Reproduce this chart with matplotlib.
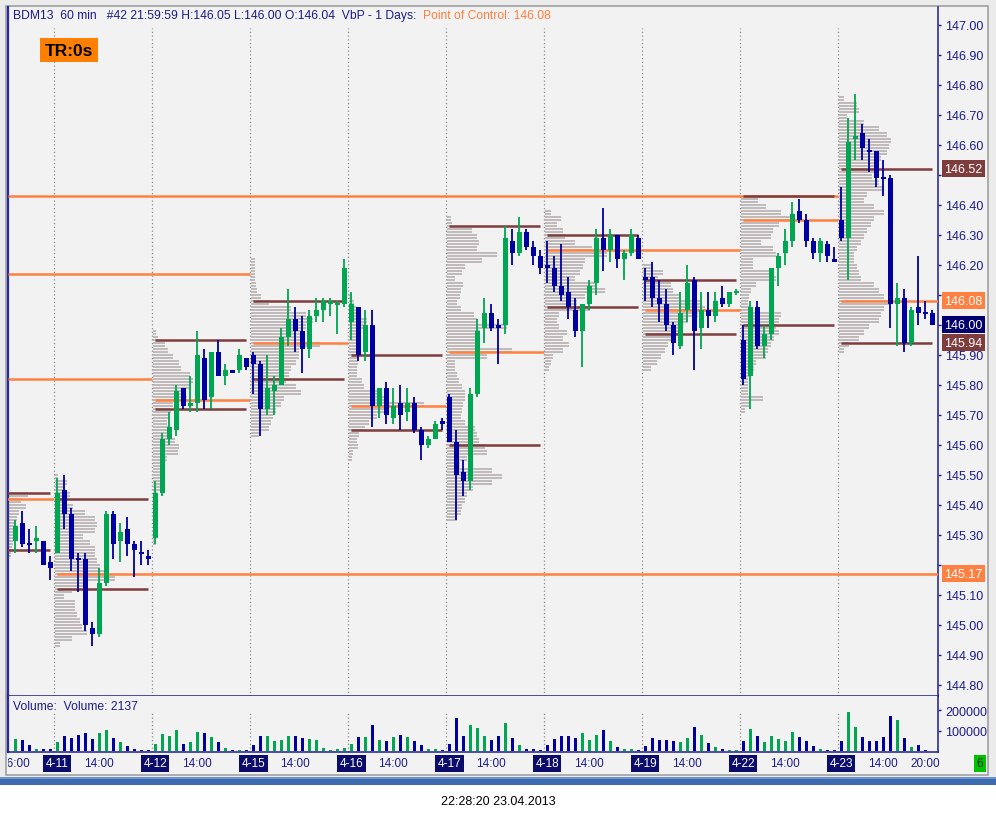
import matplotlib
matplotlib.use("Agg")
import matplotlib.pyplot as plt
import matplotlib.transforms as mtransforms
from matplotlib.patches import Rectangle
import numpy as np

plt.rcParams['font.family'] = ['Liberation Sans', 'DejaVu Sans']

# ---- data (BDM13, 60 min bars) ----
DAYS = ["4-10", "4-11", "4-12", "4-15", "4-16", "4-17", "4-18", "4-19", "4-22", "4-23"]
DAY_START = [-8, 6, 20, 34, 48, 62, 76, 90, 104, 118]   # bar index of the 08:00 bar
FIRST_HOUR = 8

OPEN = [145.28, 145.34, 145.27, 145.28, 145.28, 145.21,
        145.24, 145.45, 145.37, 145.22, 145.22, 144.99, 144.97, 145.14, 145.37, 145.28, 145.32, 145.27, 145.24, 145.23,
        145.29, 145.44, 145.62, 145.65, 145.79, 145.73, 145.74, 145.89, 145.76, 145.91, 145.83, 145.85, 145.85, 145.89,
        145.90, 145.87, 145.72, 145.78, 145.80, 145.96, 146.02, 145.98, 145.92, 146.03, 146.05, 146.07, 146.07, 146.07,
        146.01, 146.06, 145.91, 146.00, 145.73, 145.79, 145.69, 145.74, 145.71, 145.74, 145.65, 145.60, 145.62, 145.68,
        145.76, 145.61, 145.51, 145.48, 145.77, 145.99, 146.04, 146.00, 146.00, 146.28, 146.24, 146.31, 146.26, 146.23,
        146.20, 146.19, 146.13, 146.11, 146.05, 145.98, 146.07, 146.14, 146.29, 146.25, 146.30, 146.22, 146.24, 146.29,
        146.16, 146.16, 146.09, 146.07, 146.00, 145.93, 146.05, 146.15, 145.99, 146.05, 146.03, 146.09, 146.07, 146.11,
        145.95, 145.83, 146.06, 145.93, 145.97, 146.19, 146.24, 146.28, 146.38, 146.35, 146.28, 146.24, 146.27, 146.22,
        146.35, 146.29, 146.62, 146.64, 146.58, 146.58, 146.49, 146.49, 146.07, 146.09, 145.94, 146.06, 146.04, 146.04]
HIGH = [145.35, 145.38, 145.32, 145.33, 145.28, 145.23,
        145.49, 145.50, 145.39, 145.24, 145.24, 145.01, 145.19, 145.38, 145.38, 145.34, 145.36, 145.28, 145.28, 145.25,
        145.48, 145.64, 145.71, 145.80, 145.79, 145.83, 145.98, 145.92, 145.91, 145.95, 145.87, 145.85, 145.92, 145.89,
        145.91, 145.88, 145.90, 145.83, 145.99, 146.12, 146.06, 146.03, 146.05, 146.09, 146.09, 146.09, 146.08, 146.22,
        146.11, 146.06, 146.05, 146.05, 145.79, 145.81, 145.79, 145.80, 145.79, 145.76, 145.66, 145.63, 145.68, 145.69,
        145.77, 145.65, 145.55, 145.79, 146.02, 146.09, 146.07, 146.02, 146.33, 146.32, 146.36, 146.32, 146.28, 146.25,
        146.28, 146.23, 146.27, 146.16, 146.09, 146.07, 146.15, 146.32, 146.39, 146.32, 146.30, 146.25, 146.32, 146.30,
        146.19, 146.21, 146.15, 146.12, 146.01, 146.11, 146.20, 146.16, 146.11, 146.11, 146.11, 146.13, 146.11, 146.12,
        146.00, 146.08, 146.08, 146.00, 146.19, 146.24, 146.32, 146.41, 146.42, 146.37, 146.29, 146.29, 146.28, 146.26,
        146.46, 146.69, 146.77, 146.67, 146.62, 146.58, 146.55, 146.50, 146.14, 146.12, 146.06, 146.23, 146.08, 146.05]
LOW = [145.24, 145.26, 145.24, 145.24, 145.20, 145.15,
       145.24, 145.32, 145.18, 145.11, 144.98, 144.93, 144.96, 145.13, 145.22, 145.21, 145.23, 145.16, 145.20, 145.20,
       145.27, 145.43, 145.60, 145.63, 145.72, 145.71, 145.71, 145.72, 145.72, 145.83, 145.80, 145.84, 145.84, 145.85,
       145.77, 145.63, 145.70, 145.70, 145.80, 145.93, 145.91, 145.84, 145.89, 146.01, 146.01, 146.03, 145.97, 146.06,
       145.95, 145.88, 145.88, 145.66, 145.69, 145.67, 145.67, 145.65, 145.68, 145.64, 145.55, 145.59, 145.62, 145.65,
       145.61, 145.35, 145.43, 145.45, 145.76, 145.94, 145.98, 145.87, 145.97, 146.20, 146.23, 146.25, 146.20, 146.17,
       146.14, 146.11, 146.08, 146.02, 145.96, 145.86, 146.05, 146.10, 146.18, 146.21, 146.19, 146.15, 146.23, 146.22,
       146.08, 146.06, 146.01, 145.98, 145.90, 145.92, 146.01, 145.85, 145.92, 145.99, 146.01, 146.06, 146.06, 146.10,
       145.80, 145.72, 145.92, 145.89, 145.95, 146.13, 146.20, 146.26, 146.34, 146.26, 146.22, 146.21, 146.21, 146.21,
       146.28, 146.15, 146.55, 146.55, 146.51, 146.46, 146.43, 145.99, 145.93, 145.91, 145.93, 146.00, 146.02, 146.00]
CLOSE = [145.33, 145.27, 145.27, 145.29, 145.20, 145.19,
         145.44, 145.37, 145.22, 145.22, 145.00, 144.97, 145.14, 145.37, 145.27, 145.31, 145.27, 145.25, 145.24, 145.22,
         145.44, 145.62, 145.66, 145.78, 145.73, 145.74, 145.90, 145.75, 145.91, 145.83, 145.85, 145.84, 145.90, 145.86,
         145.87, 145.72, 145.79, 145.80, 145.96, 146.02, 145.98, 145.92, 146.03, 146.05, 146.08, 146.08, 146.07, 146.19,
         146.07, 145.90, 146.00, 145.73, 145.79, 145.70, 145.73, 145.70, 145.74, 145.65, 145.60, 145.62, 145.67, 145.67,
         145.61, 145.50, 145.48, 145.77, 145.98, 146.04, 145.99, 145.99, 146.29, 146.24, 146.31, 146.26, 146.23, 146.19,
         146.19, 146.13, 146.10, 146.06, 145.98, 146.07, 146.13, 146.29, 146.25, 146.30, 146.22, 146.24, 146.30, 146.22,
         146.15, 146.09, 146.07, 146.00, 145.94, 146.04, 146.14, 145.98, 146.05, 146.03, 146.08, 146.07, 146.11, 146.11,
         145.82, 146.06, 145.93, 145.97, 146.19, 146.23, 146.28, 146.37, 146.35, 146.28, 146.24, 146.28, 146.23, 146.21,
         146.29, 146.61, 146.63, 146.59, 146.58, 146.49, 146.49, 146.07, 146.09, 145.94, 146.05, 146.04, 146.04, 146.00]
DOJI_UP = [46, 103]   # crosses drawn in green

VOLUME = [60000, 55000, 31000, 11000, 11000, 11000,
          46000, 75000, 65000, 80000, 89000, 60000, 89000, 104000, 65000, 46000, 26000, 11000, 7000, 7000,
          36000, 85000, 75000, 104000, 36000, 46000, 94000, 89000, 70000, 46000, 16000, 7000, 7000, 7000,
          31000, 75000, 75000, 50000, 55000, 75000, 75000, 65000, 60000, 55000, 16000, 7000, 11000, 16000,
          36000, 70000, 70000, 128000, 55000, 50000, 70000, 80000, 70000, 50000, 31000, 11000, 11000, 7000,
          36000, 163000, 75000, 128000, 114000, 75000, 55000, 75000, 138000, 65000, 31000, 11000, 11000, 7000,
          31000, 60000, 75000, 75000, 65000, 89000, 55000, 80000, 104000, 50000, 21000, 11000, 11000, 7000,
          26000, 65000, 55000, 55000, 50000, 46000, 65000, 119000, 80000, 41000, 21000, 11000, 7000, 7000,
          50000, 109000, 75000, 46000, 75000, 60000, 50000, 94000, 70000, 50000, 26000, 11000, 7000, 7000,
          50000, 192000, 119000, 70000, 50000, 50000, 70000, 172000, 153000, 65000, 21000, 31000, 7000, 2137]

# value area high / point of control / value area low per day
VAH = [145.44, 145.42, 145.95, 146.08, 145.90, 146.33, 146.30, 146.15, 146.43, 146.52]
POC = [145.42, 145.17, 145.75, 145.94, 145.73, 145.91, 146.25, 146.05, 146.35, 146.08]
VAL = [145.25, 145.12, 145.72, 145.82, 145.65, 145.60, 146.06, 145.97, 146.00, 145.94]
OLD_POC = [146.43, 146.17, 145.82]   # untested POCs of earlier sessions

# volume-by-price profiles, one value per 0.02 from the top price down (chart px)
VBP_TOP = [145.44, 145.50, 145.98, 146.22, 146.10, 146.36, 146.38, 146.20, 146.42, 146.76]
VBP_0410 = [71, 64, 69, 62, 60, 59, 57, 56, 56, 55, 54]
VBP_0411 = [3, 12, 10, 15, 12, 18, 30, 40, 42, 40, 28, 35, 40, 40, 42, 45, 50, 60, 30, 17, 9, 20, 20, 22,
            25, 27, 32, 17, 5]
VBP_0412 = [3, 5, 12, 15, 20, 26, 28, 37, 40, 38, 32, 34, 20, 18, 15, 14, 15, 18, 22, 26, 25, 14, 12, 12,
            10, 10, 8, 4, 3, 3, 3, 3, 3, 3, 3, 3]
VBP_0415 = [4, 4, 4, 4, 5, 6, 10, 18, 40, 55, 62, 55, 50, 50, 69, 48, 48, 45, 40, 38, 35, 45, 50, 33,
            30, 25, 22, 20, 18, 8]
VBP_0416 = [3, 5, 7, 9, 18, 15, 8, 9, 10, 10, 9, 9, 8, 8, 13, 15, 28, 36, 75, 35, 28, 20, 16, 10, 8, 9, 4, 3]
VBP_0417 = [4, 5, 25, 30, 32, 30, 50, 35, 18, 15, 8, 16, 14, 13, 10, 14, 27, 30, 60, 33, 30, 30, 65, 40,
            8, 8, 10, 12, 15, 18, 18, 16, 15, 14, 18, 28, 30, 32, 38, 40, 20, 13, 45, 55, 45, 26, 20, 18,
            15, 14, 10]
VBP_0418 = [6, 16, 12, 18, 20, 30, 47, 62, 40, 38, 35, 30, 50, 60, 40, 32, 45, 14, 12, 14, 22, 18, 24, 18,
            8, 6, 4]
VBP_0419 = [10, 20, 15, 28, 30, 38, 58, 62, 55, 45, 38, 35, 28, 25, 22, 18, 14, 8]
VBP_0422 = [17, 25, 40, 50, 38, 32, 30, 20, 32, 35, 12, 12, 28, 35, 15, 10, 8, 7, 8, 40, 38, 35, 38, 33,
            30, 27, 25, 15, 13, 10, 7, 7, 7, 22, 8, 4]
VBP_0423 = [5, 18, 20, 8, 25, 40, 48, 52, 50, 48, 42, 38, 35, 33, 40, 45, 28, 25, 35, 45, 35, 32, 28, 25,
            22, 18, 15, 15, 18, 20, 22, 35, 40, 45, 52, 45, 42, 40, 30, 25, 20, 10, 5]
VBP = [VBP_0410, VBP_0411, VBP_0412, VBP_0415, VBP_0416, VBP_0417, VBP_0418, VBP_0419, VBP_0422, VBP_0423]

EXTRA_TIME_TICKS = {0: "16:00", 130: "20:00"}
CLOCK = "22:28:20 23.04.2013"

# ---- styling ----
W, H = 996, 820
BG = '#f2f2f2'
NAVY = '#1c1c8c'
GREEN = '#00a651'
BLUE = '#0000a0'
ORANGE = '#ff8040'
BROWN = '#7d3d3d'
GREY_VBP = '#c0baba'
PX_PER_BAR = 7.0
BARS_PER_DAY = 14


def fx(px):
    return px / W


def fy(py):
    return 1 - py / H


fig = plt.figure(figsize=(W / 100, H / 100), dpi=100, facecolor='white')
fig.patches.append(Rectangle((0, fy(778)), 1, 1 - fy(778), transform=fig.transFigure,
                             facecolor='#ebebeb', edgecolor='none', zorder=-3))
fig.patches.append(Rectangle((fx(6), fy(776)), fx(988) - fx(6), fy(7) - fy(776), transform=fig.transFigure,
                             facecolor=BG, edgecolor='#a0a0a0', lw=1.2, zorder=-2))
fig.patches.append(Rectangle((0, fy(786)), 1, fy(778) - fy(786), transform=fig.transFigure,
                             facecolor='#3d6bb0', edgecolor='none', zorder=-2))
fig.patches.append(Rectangle((0, fy(780)), 1, fy(778) - fy(780), transform=fig.transFigure,
                             facecolor='#6c93cc', edgecolor='none', zorder=-1))

XLIM = (-1.04, 131.81)
ax = fig.add_axes([fx(8), fy(697), fx(938) - fx(8), fy(8) - fy(697)])
vax = fig.add_axes([fx(8), fy(753), fx(938) - fx(8), fy(697) - fy(753)])
# label strip is a little wider than the plot so "20:00" is not cut
lax = fig.add_axes([fx(8), fy(775), fx(948) - fx(8), fy(754) - fy(775)])

o = np.array(OPEN)
h = np.array(HIGH)
l = np.array(LOW)
c = np.array(CLOSE)
idx = np.arange(len(o))
up = (c > o) | np.isin(idx, DOJI_UP)
cols = np.where(up, GREEN, BLUE)

ax.set_facecolor(BG)
ax.set_xlim(*XLIM)
ax.set_ylim(144.763, 147.06)

# volume profiles
for d, widths in enumerate(VBP):
    anchor = DAY_START[d] - 0.3
    prices, w = [], []
    for k, val in enumerate(widths):
        for sub in (0, 1):
            prices.append(VBP_TOP[d] - 0.02 * k - 0.01 * sub)
            w.append(val / PX_PER_BAR)
    prices = np.array(prices)
    w = np.array(w)
    ax.barh(prices, w, left=anchor, height=0.0075, color=GREY_VBP, lw=0, zorder=1)
    ax.barh(prices, w * 0.45, left=anchor, height=0.0022, color='#d09494', lw=0, zorder=1.1)
    ax.barh(prices, w * 0.55, left=anchor + w * 0.45, height=0.0022, color='#a4cca4', lw=0, zorder=1.1)

# session separators
for s in DAY_START[1:]:
    ax.vlines(s - 0.43, 144.7, 146.99, colors='#8a8a8a', linestyles=(0, (1, 2)), lw=0.9, zorder=1.5)
    vax.axvline(s - 0.43, ymax=0.70, color='#8a8a8a', ls=(0, (1, 2)), lw=0.9, zorder=0.5)


def poc_end(level, day):
    # a POC runs on until the day before a session trades through it
    for d in range(day + 1, len(DAYS)):
        s = DAY_START[d]
        if l[s:s + BARS_PER_DAY].min() <= level <= h[s:s + BARS_PER_DAY].max():
            return DAY_START[d] - 0.5
    return None


right_labels = []
for level in OLD_POC:
    end = poc_end(level, 0)
    ax.hlines(level, XLIM[0], end if end is not None else XLIM[1], colors=ORANGE, lw=1.8, zorder=3)

for d in range(len(DAYS)):
    s = DAY_START[d]
    e = s + BARS_PER_DAY - 1
    ax.hlines([VAH[d], VAL[d]], s, e, colors=BROWN, lw=1.8, zorder=3.2)
    end = poc_end(POC[d], d)
    if end is None:
        ax.hlines(POC[d], s, XLIM[1], colors=ORANGE, lw=1.8, zorder=3.1)
        right_labels.append((POC[d], ORANGE))
    else:
        ax.hlines(POC[d], s, end, colors=ORANGE, lw=1.8, zorder=3.1)
right_labels.append((VAH[-1], BROWN))
right_labels.append((VAL[-1], BROWN))
right_labels.append((c[-1], '#000070'))

# candles
ax.vlines(idx, l, h, colors=cols, lw=1.3, zorder=5)
body = np.abs(c - o)
solid = body > 0.001
ax.bar(idx[solid], body[solid], bottom=np.minimum(o, c)[solid], width=0.7, color=cols[solid], lw=0, zorder=6)
ax.hlines(c[~solid], idx[~solid] - 0.36, idx[~solid] + 0.36, colors=cols[~solid], lw=1.4, zorder=6)

# right price scale; ticks hidden under a price box are left blank
ax.yaxis.tick_right()
ticks = np.round(np.arange(144.8, 147.001, 0.1), 2)
boxed = [lv for lv, _ in right_labels]
ax.set_yticks(ticks)
ax.set_yticklabels(["" if min(abs(t - b) for b in boxed) < 0.035 else f"{t:.2f}" for t in ticks])
ax.tick_params(axis='y', direction='out', length=2.5, width=1, color=NAVY, labelcolor=NAVY,
               labelsize=9, pad=2.5)
ax.set_xticks([])
ax.spines['top'].set_visible(False)
ax.spines['left'].set_color('#2a2aa0')
ax.spines['left'].set_linewidth(1.6)
ax.spines['right'].set_color(NAVY)
ax.spines['right'].set_linewidth(1.1)
ax.spines['bottom'].set_color(NAVY)
ax.spines['bottom'].set_linewidth(1.1)

blend = mtransforms.blended_transform_factory(ax.transAxes, ax.transData)
for level, colr in right_labels:
    ax.text(1.0066, level, f"{level:.2f}", transform=blend, ha='left', va='center', fontsize=9,
            color='white', clip_on=False, zorder=20,
            bbox=dict(boxstyle='square,pad=0.2', fc=colr, ec='none'))

# header
hdr = f"BDM13  60 min   #42 21:59:59 H:{h[-1]:.2f} L:{l[-1]:.2f} O:{o[-1]:.2f}  VbP - 1 Days:  "
t1 = fig.text(fx(13), fy(16), hdr, fontsize=8.7, color=NAVY, va='center', ha='left')
ax.annotate(f"Point of Control: {POC[-1]:.2f}", xy=(1, 0.5), xycoords=t1, va='center', ha='left',
            fontsize=8.7, color=ORANGE, annotation_clip=False)

fig.text(fx(69), fy(51), "TR:0s", fontsize=12.5, fontweight='bold', color='black', ha='center', va='center',
         bbox=dict(boxstyle='square,pad=0.25', fc='#ff8000', ec='none'))

# volume panel
vax.set_facecolor(BG)
vax.set_xlim(*XLIM)
vax.set_ylim(-3400, 270000)
vax.bar(idx, VOLUME, width=0.43, color=cols, lw=0, zorder=2)
vax.yaxis.tick_right()
vax.set_yticks([100000, 200000])
vax.set_yticklabels(["100000", "200000"])
vax.tick_params(axis='y', direction='out', length=2.5, width=1, color=NAVY, labelcolor=NAVY,
                labelsize=9, pad=2.5)
vax.set_xticks([])
vax.spines['top'].set_visible(False)
vax.spines['left'].set_color('#2a2aa0')
vax.spines['left'].set_linewidth(1.6)
vax.spines['right'].set_color(NAVY)
vax.spines['right'].set_linewidth(1.1)
vax.spines['bottom'].set_color(NAVY)
vax.spines['bottom'].set_linewidth(1.1)
vax.text(0.0055, 0.83, f"Volume:  Volume: {VOLUME[-1]}", transform=vax.transAxes,
         fontsize=8.7, color=NAVY, va='center', ha='left')

# time axis labels
lax.set_xlim(XLIM[0], XLIM[0] + (XLIM[1] - XLIM[0]) * 940 / 930)
lax.set_ylim(0, 1)
lax.axis('off')
for d in range(1, len(DAYS)):
    s = DAY_START[d]
    lax.text(s, 0.5, DAYS[d], fontsize=8.5, color='white', ha='center', va='center', clip_on=True,
             bbox=dict(boxstyle='square,pad=0.2', fc='#0b0b6b', ec='none'))
    lax.text(s + 14 - FIRST_HOUR, 0.5, "14:00", fontsize=8.5, color=NAVY, ha='center', va='center', clip_on=True)
for i, txt in EXTRA_TIME_TICKS.items():
    lax.text(i, 0.5, txt, fontsize=8.5, color=NAVY, ha='center', va='center', clip_on=True)

fig.text(fx(980), fy(764.5), "6", fontsize=8.5, color='#003000', ha='center', va='center',
         bbox=dict(boxstyle='square,pad=0.25', fc='#00c000', ec='none'))

fig.text(fx(498), fy(802), CLOCK, fontsize=9, color='black', ha='center', va='center')

fig.savefig("out.png", dpi=100, facecolor=fig.get_facecolor())
